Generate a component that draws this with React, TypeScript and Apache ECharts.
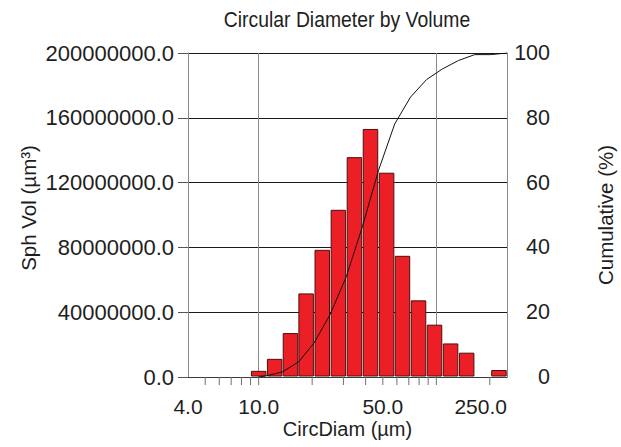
import React, { useEffect, useRef } from "react";
import * as echarts from "echarts";

// Bin centres (µm) (log-spaced bins)
const binCenters = [10.0, 12.3, 15.1, 18.5, 22.8, 28.1, 34.6, 42.6, 52.5, 64.5, 79.4, 97.7, 120.3, 148.2, 182.5, 225.2];
// Sphere volume per bin (µm³)
const sphVol = [3.5e6, 10.9e6, 26.8e6, 51.3e6, 78.2e6, 102.9e6, 135.4e6, 152.8e6, 125.8e6, 74.5e6, 47.0e6, 32.0e6, 20.4e6, 14.7e6, 0, 4.0e6];
// Ratio between neighbouring bin centres
const binRatio = 1.232;

// Cumulative curve (%)
const cumDiam = [10.0, 11.1, 13.65, 16.8, 20.5, 25.3, 31.2, 38.4, 47.3, 58.3, 71.6, 88.1, 108.4, 133.5, 164.5, 202.6, 250];
const cumPct = [0, 0.4, 1.6, 4.7, 10.5, 19.4, 31.1, 46.5, 63.8, 78.1, 86.4, 91.8, 95.1, 97.7, 99.5, 99.5, 100];

// X axis labels and minor ticks
const xLabelValues = [4, 10, 50, 250];
const xMinorTicks = [5, 6, 7, 8, 9, 10, 20, 30, 40, 50, 60, 70, 80, 90, 100, 200];

const FONT = "'Liberation Sans', Arial, Helvetica, sans-serif";
const TEXT = "#1e1e1e";

export default function App() {
  const ref = useRef<HTMLDivElement>(null);
  useEffect(() => {
    if (!ref.current) return;
    const chart = echarts.init(ref.current, undefined, { renderer: "svg" });
    const half = Math.sqrt(binRatio);
    const lastLabel = xLabelValues[xLabelValues.length - 1];
    chart.setOption({
      animation: false,
      backgroundColor: "#ffffff",
      grid: { left: 188, right: 114, top: 53, bottom: 70, containLabel: false },
      xAxis: {
        type: "log",
        logBase: 10,
        min: 4,
        max: 250,
        name: "CircDiam (µm)",
        nameLocation: "middle",
        nameGap: 42,
        nameTextStyle: { fontFamily: FONT, fontSize: 20, color: TEXT },
        axisLine: { show: true, lineStyle: { color: "#3a3a3a", width: 1 } },
        axisTick: { show: false },
        axisLabel: { show: false },
        splitLine: { show: true, lineStyle: { color: "#8a8a8a", width: 1 } },
      },
      yAxis: [
        {
          type: "value",
          min: 0,
          max: 200000000,
          interval: 40000000,
          position: "left",
          axisLine: { show: true, lineStyle: { color: "#8a8a8a", width: 1 } },
          axisTick: { show: true, length: 10, lineStyle: { color: "#555" } },
          axisLabel: {
            margin: 14,
            fontFamily: FONT,
            fontSize: 22,
            color: TEXT,
            formatter: (v: number) => v.toFixed(1),
          },
          splitLine: { show: true, lineStyle: { color: "#1a1a1a", width: 1 } },
        },
        {
          type: "value",
          min: 0,
          max: 100,
          interval: 20,
          position: "right",
          axisLine: { show: true, lineStyle: { color: "#8a8a8a", width: 1 } },
          axisTick: { show: false },
          axisLabel: {
            margin: 43,
            align: "right",
            fontFamily: FONT,
            fontSize: 21.5,
            color: TEXT,
          },
          splitLine: { show: false },
        },
      ],
      graphic: [
        {
          type: "text",
          x: 347,
          y: 19,
          scaleX: 0.88,
          style: {
            text: "Circular Diameter by Volume",
            align: "center",
            verticalAlign: "middle",
            fontFamily: FONT,
            fontSize: 22,
            fill: TEXT,
          },
        },
        {
          type: "text",
          x: 28,
          y: 208,
          rotation: Math.PI / 2,
          style: {
            text: "Sph Vol (µm³)",
            align: "center",
            verticalAlign: "middle",
            fontFamily: FONT,
            fontSize: 20.5,
            fill: TEXT,
          },
        },
        {
          type: "text",
          x: 605,
          y: 215,
          rotation: Math.PI / 2,
          style: {
            text: "Cumulative (%)",
            align: "center",
            verticalAlign: "middle",
            fontFamily: FONT,
            fontSize: 20.5,
            fill: TEXT,
          },
        },
      ],
      series: [
        {
          type: "custom",
          name: "Sph Vol",
          xAxisIndex: 0,
          yAxisIndex: 0,
          clip: false,
          encode: { x: 0, y: 1 },
          data: binCenters.map((c, i) => [c, sphVol[i]]),
          renderItem: (params: any, api: any) => {
            const c = api.value(0);
            const v = api.value(1);
            if (!v) return null;
            const p0 = api.coord([c / half, 0]);
            const p1 = api.coord([c * half, v]);
            return {
              type: "rect",
              shape: {
                x: p0[0] + 0.8,
                y: p1[1],
                width: p1[0] - p0[0] - 1.6,
                height: p0[1] - p1[1] - 1,
              },
              style: { fill: "#ED1F26", stroke: "#4a1010", lineWidth: 1 },
            };
          },
          z: 2,
        },
        {
          type: "custom",
          name: "ticks",
          xAxisIndex: 0,
          yAxisIndex: 0,
          clip: false,
          silent: true,
          encode: { x: 0, y: 1 },
          data: xMinorTicks.map((v) => [v, 0]),
          renderItem: (params: any, api: any) => {
            const p = api.coord([api.value(0), 0]);
            return {
              type: "line",
              shape: { x1: p[0], y1: p[1], x2: p[0], y2: p[1] + 8 },
              style: { stroke: "#707070", lineWidth: 1 },
            };
          },
          z: 3,
        },
        {
          type: "custom",
          name: "xlabels",
          xAxisIndex: 0,
          yAxisIndex: 0,
          clip: false,
          silent: true,
          encode: { x: 0, y: 1 },
          data: xLabelValues.map((v) => [v, 0]),
          renderItem: (params: any, api: any) => {
            const v = api.value(0);
            const p = api.coord([v, 0]);
            return {
              type: "text",
              x: p[0],
              y: p[1] + 19,
              style: {
                text: v.toFixed(1),
                align: v === lastLabel ? "right" : "center",
                verticalAlign: "top",
                fontFamily: FONT,
                fontSize: 21,
                fill: TEXT,
              },
            };
          },
          z: 3,
        },
        {
          type: "line",
          name: "Cumulative",
          xAxisIndex: 0,
          yAxisIndex: 1,
          data: cumDiam.map((d, i) => [d, cumPct[i]]),
          showSymbol: false,
          symbol: "none",
          lineStyle: { color: "#111", width: 1 },
          z: 4,
        },
      ],
    });
    return () => chart.dispose();
  }, []);
  return (
    <div
      ref={ref}
      style={{ position: "fixed", left: 0, top: 0, width: 621, height: 447 }}
    />
  );
}
